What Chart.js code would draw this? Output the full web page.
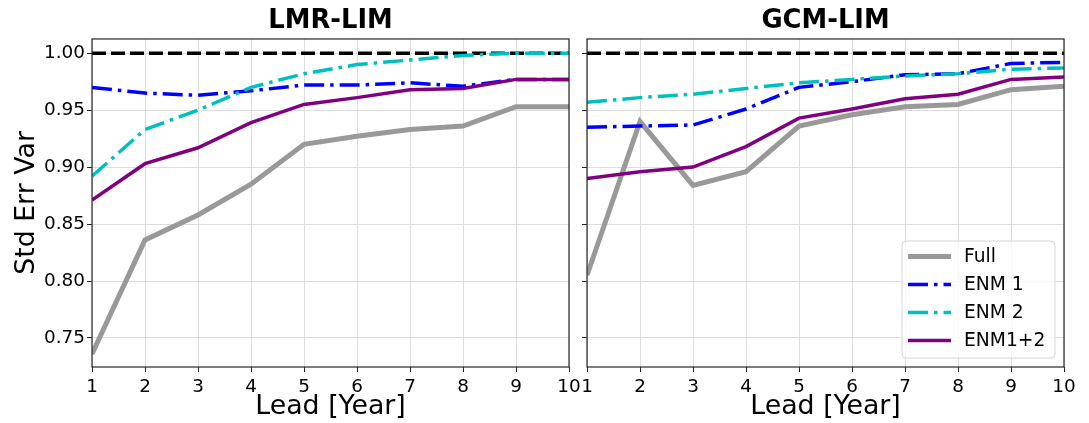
<!DOCTYPE html>
<html>
<head>
<meta charset="utf-8">
<script src="https://cdn.jsdelivr.net/npm/chart.js@4.4.0/dist/chart.umd.min.js"></script>
<style>
    html, body { margin: 0; padding: 0; background: #fff; }
    #wrap { position: relative; width: 1089px; height: 423px; overflow: hidden; }
    canvas { position: absolute; top: 0; }
    #leftChart { left: 0; }
    #rightChart { left: 575px; }
</style>
</head>
<body>
<div id="wrap">
    <canvas id="leftChart" width="590" height="423"></canvas>
    <canvas id="rightChart" width="514" height="423"></canvas>
</div>
<script>
// Lead years and y ticks
const leads = [1, 2, 3, 4, 5, 6, 7, 8, 9, 10];
const yTicks = [0.75, 0.80, 0.85, 0.90, 0.95, 1.00];
const perfectScore = 1.0;

// LMR-LIM panel
const lmrFull = [0.736, 0.836, 0.858, 0.885, 0.920, 0.927, 0.933, 0.936, 0.953, 0.953];
const lmrEnm1 = [0.970, 0.965, 0.963, 0.967, 0.972, 0.972, 0.974, 0.971, 0.977, 0.977];
const lmrEnm2 = [0.892, 0.933, 0.950, 0.970, 0.982, 0.990, 0.994, 0.998, 1.000, 1.000];
const lmrEnm12 = [0.871, 0.903, 0.917, 0.939, 0.955, 0.961, 0.968, 0.969, 0.977, 0.977];

// GCM-LIM panel
const gcmFull = [0.805, 0.940, 0.884, 0.896, 0.936, 0.946, 0.953, 0.955, 0.968, 0.971];
const gcmEnm1 = [0.935, 0.936, 0.937, 0.951, 0.970, 0.975, 0.981, 0.982, 0.991, 0.992];
const gcmEnm2 = [0.957, 0.961, 0.964, 0.969, 0.974, 0.977, 0.980, 0.982, 0.986, 0.987];
const gcmEnm12 = [0.890, 0.896, 0.900, 0.918, 0.943, 0.951, 0.960, 0.964, 0.977, 0.979];

const seriesNames = ['Full', 'ENM 1', 'ENM 2', 'ENM1+2'];

const FONT = '"DejaVu Sans", sans-serif';

function toPoints(values) {
    return values.map((v, i) => ({x: leads[i], y: v}));
}

function buildDatasets(full, enm1, enm2, enm12) {
    return [
        {
            data: [{x: leads[0], y: perfectScore}, {x: leads[leads.length - 1], y: perfectScore}],
            borderColor: '#000000', borderWidth: 3.5, borderDash: [14, 5], order: 5
        },
        {label: seriesNames[0], data: toPoints(full), borderColor: '#999999', borderWidth: 5, order: 4},
        {label: seriesNames[1], data: toPoints(enm1), borderColor: '#0000ff', borderWidth: 3.5, borderDash: [20, 6, 3.5, 6], order: 3},
        {label: seriesNames[2], data: toPoints(enm2), borderColor: '#00bfbf', borderWidth: 3.5, borderDash: [20, 6, 3.5, 6], order: 2},
        {label: seriesNames[3], data: toPoints(enm12), borderColor: '#800080', borderWidth: 3.5, order: 1}
    ];
}

// Box around the axes, like a matplotlib frame
const frame = {
    id: 'frame',
    afterDraw(chart) {
        const {ctx, chartArea: a} = chart;
        ctx.save();
        ctx.strokeStyle = '#262626';
        ctx.lineWidth = 1.2;
        ctx.strokeRect(a.left, a.top, a.right - a.left, a.bottom - a.top);
        ctx.restore();
    }
};

// Legend inside the lower right corner
const insetLegend = {
    id: 'insetLegend',
    afterDraw(chart) {
        const {ctx, chartArea: a} = chart;
        const items = chart.data.datasets.filter(d => d.label);
        const w = 153, h = 117;
        const x0 = a.right - 9 - w;
        const y0 = a.bottom - 9 - h;
        ctx.save();
        ctx.beginPath();
        ctx.roundRect(x0, y0, w, h, 4);
        ctx.fillStyle = 'rgba(255,255,255,0.8)';
        ctx.fill();
        ctx.strokeStyle = '#d4d4d4';
        ctx.lineWidth = 1;
        ctx.stroke();
        items.forEach((d, i) => {
            const y = y0 + 15.5 + i * 28;
            ctx.beginPath();
            ctx.setLineDash(d.borderDash || []);
            ctx.strokeStyle = d.borderColor;
            ctx.lineWidth = d.borderWidth;
            ctx.moveTo(x0 + 6, y);
            ctx.lineTo(x0 + 49, y);
            ctx.stroke();
            ctx.setLineDash([]);
            ctx.fillStyle = '#000000';
            ctx.font = '18.7px ' + FONT;
            ctx.textBaseline = 'middle';
            ctx.fillText(d.label, x0 + 62, y + 1);
        });
        ctx.restore();
    }
};

function makeChart(canvasId, title, datasets, isLeft) {
    const config = {
        type: 'line',
        data: {datasets: datasets},
        options: {
            responsive: false,
            animation: false,
            layout: {padding: {left: 0, right: isLeft ? 21 : 25, top: 0, bottom: 0}},
            elements: {point: {radius: 0}, line: {tension: 0, fill: false}},
            scales: {
                x: {
                    type: 'linear',
                    min: leads[0],
                    max: leads[leads.length - 1],
                    afterFit: s => { s.height = 56; },
                    grid: {color: '#dddddd', lineWidth: 1, tickLength: 5, tickColor: '#262626'},
                    border: {display: false},
                    ticks: {stepSize: 1, padding: 4, maxRotation: 0, color: '#000', font: {family: FONT, size: 18.4}},
                    title: {display: true, text: 'Lead [Year]', color: '#000', padding: {top: 0, bottom: 0}, font: {family: FONT, size: 26.8}}
                },
                y: {
                    min: 0.7245,
                    max: 1.0125,
                    afterFit: s => { s.width = isLeft ? 92 : 12; },
                    afterBuildTicks: s => { s.ticks = yTicks.map(v => ({value: v})); },
                    grid: {color: '#dddddd', lineWidth: 1, tickLength: 5, tickColor: '#262626'},
                    border: {display: false},
                    ticks: {
                        display: isLeft,
                        padding: 2,
                        color: '#000',
                        font: {family: FONT, size: 18.4},
                        callback: v => v.toFixed(2)
                    },
                    title: {display: isLeft, text: 'Std Err Var', color: '#000', padding: {top: 11, bottom: 0}, font: {family: FONT, size: 26.8}}
                }
            },
            plugins: {
                legend: {display: false},
                tooltip: {enabled: false},
                title: {
                    display: true,
                    fullSize: false,
                    text: title,
                    color: '#000',
                    padding: {top: 6, bottom: 2},
                    font: {family: FONT, size: 25.8, weight: 'bold'}
                }
            }
        },
        plugins: isLeft ? [frame] : [frame, insetLegend]
    };
    return new Chart(document.getElementById(canvasId), config);
}

makeChart('leftChart', 'LMR-LIM', buildDatasets(lmrFull, lmrEnm1, lmrEnm2, lmrEnm12), true);
makeChart('rightChart', 'GCM-LIM', buildDatasets(gcmFull, gcmEnm1, gcmEnm2, gcmEnm12), false);
</script>
</body>
</html>
